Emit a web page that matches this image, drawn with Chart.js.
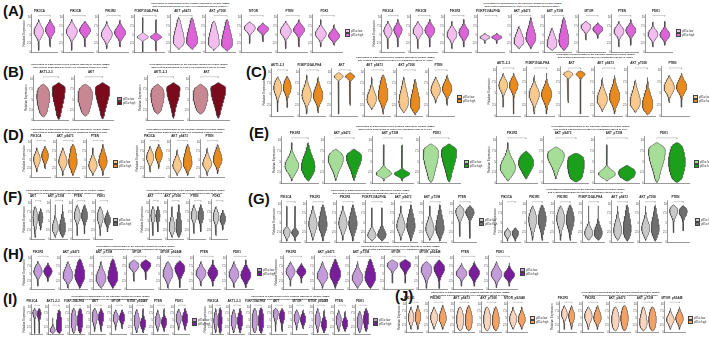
<!DOCTYPE html>
<html><head><meta charset="utf-8">
<script src="https://cdn.jsdelivr.net/npm/chart.js@4.4.1/dist/chart.umd.min.js"></script>
<style>
html,body{margin:0;padding:0;background:#fff}
#root{position:relative;width:709px;height:339px;overflow:hidden;font-family:"Liberation Sans",Arial,sans-serif}
.plab{position:absolute;font-weight:bold;font-size:15px;line-height:15px;color:#111}
.ttl{position:absolute;white-space:nowrap;font-size:10px;line-height:11px;font-weight:bold;color:#333;text-align:center;transform-origin:top center}
.leg{position:absolute}
.leg .sw{position:absolute;width:5px;height:4px;border:0.5px solid #444;box-sizing:border-box}
.leg .lt{position:absolute;white-space:nowrap;font-size:10px;line-height:10px;color:#333;transform:scale(0.28);transform-origin:top left}
</style>
</head><body><div id="root"></div>
<script>
// ---------------- DATA (values in relative units, 0-10 per panel) ----------------
// each violin: [min, q1, median, q3, max]
const A_genes = ['PIK3CA','PIK3CB','PIK3R2','PI3KP110ALPHA','AKT_pS473','AKT_pT308','MTOR','PTEN','PDK1'];
const A1_low  = [[0.5,5.0,6.0,7.0,9.5],[0.5,5.0,6.0,7.0,9.5],[1.0,4.2,5.2,6.2,9.0],[0.0,4.0,4.4,4.8,10],[0.8,2.2,3.0,5.5,10],[0.5,1.8,2.4,5.0,9.0],[2.5,6.3,7.0,7.7,8.8],[1.0,5.2,6.1,7.0,9.0],[1.5,4.5,5.3,6.2,9.5]];
const A1_high = [[1.5,5.6,6.5,7.4,9.5],[1.5,5.5,6.3,7.2,9.0],[1.5,4.8,5.7,6.6,9.3],[0.3,4.0,4.4,4.8,9.5],[0.8,2.2,3.0,5.5,10],[0.3,1.5,2.2,4.8,9.5],[3.0,6.1,6.7,7.3,8.5],[1.5,5.7,6.5,7.3,9.5],[2.0,4.0,4.7,5.5,8.0]];
const A2_low  = [[1.0,5.3,6.1,7.0,9.0],[1.0,5.3,6.1,7.0,9.0],[1.0,4.3,5.2,6.1,9.0],[2.5,4.0,4.3,4.7,5.5],[1.0,2.3,3.0,4.5,7.5],[0.5,1.5,2.2,3.8,7.0],[3.5,6.7,7.4,8.0,9.0],[1.5,5.3,6.1,6.9,9.0],[1.5,4.4,5.2,6.0,8.8]];
const A2_high = [[1.5,5.6,6.5,7.3,9.5],[1.5,5.5,6.3,7.2,9.5],[1.5,4.8,5.7,6.6,9.5],[2.5,4.0,4.3,4.7,5.5],[1.0,3.0,3.9,5.8,10],[0.5,2.0,3.0,5.5,10],[4.0,6.1,6.7,7.3,8.5],[2.0,5.5,6.3,7.1,9.5],[2.0,4.3,5.0,5.8,9.0]];

const B_genes = ['AKT1-2-3','AKT'];
const B1_low  = [[0.8,3.5,6.0,7.5,8.8],[1.0,3.8,6.2,7.6,8.8]];
const B1_high = [[0.2,5.0,7.8,8.4,9.2],[0.3,5.2,7.8,8.4,9.2]];
const B2_low  = [[1.5,4.0,6.3,7.6,8.8],[1.5,4.0,6.3,7.6,8.8]];
const B2_high = [[0.5,5.5,7.8,8.4,9.2],[0.5,5.3,7.8,8.4,9.2]];

const C_genes = ['AKT1-2-3','PI3KP110ALPHA','AKT','AKT_pS473','AKT_pT308','PTEN'];
const C1_low  = [[1.0,5.5,6.5,7.5,9.0],[0.5,3.8,4.8,6.0,9.5],[0.5,8.8,9.2,9.6,10],[1.5,3.0,3.8,5.0,9.0],[0.8,2.2,3.2,5.0,9.0],[3.0,5.2,6.0,7.0,9.0]];
const C1_high = [[2.0,5.7,6.6,7.6,9.2],[0.8,3.7,4.6,5.8,9.0],[2.5,8.8,9.2,9.6,10],[0.5,3.5,4.5,6.5,9.5],[0.3,1.8,2.6,4.5,8.5],[2.5,5.5,6.3,7.2,9.5]];
const C2_low  = [[2.0,6.0,6.8,7.6,9.5],[0.5,3.8,4.8,5.8,9.0],[3.0,9.0,9.4,9.7,10],[1.0,2.8,3.6,4.8,8.5],[0.8,2.2,3.0,4.5,8.0],[3.0,5.5,6.3,7.2,9.0]];
const C2_high = [[0.5,6.0,6.8,7.6,9.5],[0.5,3.8,4.8,5.8,9.5],[0.5,9.0,9.4,9.7,10],[0.5,3.2,4.2,5.5,9.0],[0.3,1.5,2.5,4.0,8.5],[2.0,5.6,6.4,7.3,9.5]];

const D_genes = ['PIK3CA','AKT_pS473','PTEN'];
const D1_low  = [[1.5,4.2,5.2,6.2,8.5],[0.5,3.5,4.5,5.8,8.5],[0.5,2.5,3.3,4.5,8.5]];
const D1_high = [[2.5,5.3,6.3,7.2,9.0],[0.5,3.0,4.2,6.5,9.5],[0.5,3.5,4.5,6.0,9.5]];
const D2_low  = [[1.5,4.8,5.8,6.8,9.0],[0.5,2.5,3.3,4.5,8.0],[0.5,3.0,3.8,5.0,8.5]];
const D2_high = [[2.5,5.5,6.5,7.5,9.5],[0.5,3.0,4.0,6.0,9.5],[1.0,4.0,5.0,6.5,9.5]];

const E_genes = ['PIK3R2','AKT_pS473','AKT_pT308','PDK1'];
const E1_low  = [[0.5,3.0,4.0,5.2,9.5],[0.6,4.3,5.8,6.8,8.0],[0.5,1.8,2.2,2.8,9.0],[0.2,4.5,7.2,8.2,9.2]];
const E1_high = [[0.5,2.5,3.8,5.5,9.5],[0.6,4.5,6.2,7.0,8.0],[0.5,1.8,2.2,2.6,9.0],[0.3,5.0,7.5,8.3,9.2]];
const E2_low  = [[0.5,2.5,3.6,5.0,9.5],[1.0,5.0,6.6,7.5,8.5],[0.5,1.6,2.2,2.8,9.0],[0.2,5.0,7.6,8.5,9.5]];
const E2_high = [[1.0,3.5,4.8,6.0,7.5],[0.3,2.0,4.5,6.5,7.0],[0.5,1.5,2.5,3.3,4.2],[0.2,2.5,5.0,7.5,9.5]];

const F_genes = ['AKT','AKT_pT308','PTEN','PDK1'];
const F1_low  = [[0.5,4.5,6.0,7.3,9.0],[0.5,2.3,3.1,4.2,9.5],[1.0,5.5,6.4,7.5,9.5],[1.0,5.0,6.0,7.2,9.0]];
const F1_high = [[2.5,5.0,6.0,6.8,8.5],[0.5,2.0,3.0,4.5,9.5],[1.5,5.5,6.4,7.5,9.5],[2.0,4.5,5.2,6.0,8.0]];
const F2_low  = [[1.0,5.5,6.5,7.5,9.0],[0.5,2.3,3.2,4.5,9.0],[1.5,5.6,6.5,7.5,9.5],[1.0,5.2,6.2,7.2,9.0]];
const F2_high = [[2.0,5.5,6.4,7.3,9.0],[0.5,2.0,3.0,5.0,9.5],[2.0,5.5,6.5,7.5,9.5],[2.5,4.8,5.5,6.3,8.0]];

const G_genes = ['PIK3CA','PIK3R1','PIK3R2','PI3KP110ALPHA','AKT_pS473','AKT_pT308','PTEN'];
const G1_low  = [[0.3,2.0,2.8,3.3,9.5],[0.5,3.5,4.8,6.2,9.5],[0.5,3.8,5.0,6.3,9.5],[0.3,1.2,1.8,2.6,9.0],[0.5,3.2,4.2,5.5,9.5],[0.5,2.5,3.5,4.8,9.5],[1.5,7.0,8.0,8.8,9.8]];
const G1_high = [[0.3,2.0,2.5,3.0,9.5],[0.3,3.3,4.5,6.5,9.8],[0.3,3.5,4.8,6.5,9.8],[0.3,1.2,1.9,2.8,9.0],[0.3,3.0,4.2,6.0,9.8],[0.3,2.5,3.5,5.5,9.8],[1.0,7.0,7.8,8.6,9.6]];
const G2_low  = [[0.3,1.8,2.3,2.8,3.8],[0.5,4.5,6.0,7.3,9.5],[0.5,4.8,6.2,7.5,9.5],[0.5,1.6,2.4,3.3,9.5],[0.5,2.0,3.0,4.5,9.5],[0.5,2.5,3.5,4.8,9.5],[2.5,7.3,8.2,9.0,9.8]];
const G2_high = [[0.3,1.8,2.4,3.0,3.8],[0.5,4.5,6.0,7.5,9.8],[0.5,4.5,6.0,7.5,9.8],[0.5,1.5,2.4,3.5,9.5],[0.3,2.0,3.2,5.5,9.8],[0.3,2.3,3.5,5.5,9.8],[3.0,7.2,8.0,8.8,9.6]];

const H_genes = ['PIK3R2','AKT_pS473','AKT_pT308','MTOR','MTOR_pS2448','PTEN','PDK1'];
const H1_low  = [[1.0,4.8,5.7,6.8,9.0],[0.3,3.3,4.3,5.8,9.0],[0.3,2.3,3.4,5.0,9.0],[2.5,6.8,7.6,8.4,9.5],[0.3,3.8,5.0,6.5,9.0],[1.0,4.2,5.1,6.2,9.0],[0.5,3.8,4.8,6.0,9.0]];
const H1_high = [[2.5,5.0,5.8,6.6,8.5],[0.3,3.0,4.3,6.5,9.8],[0.3,2.5,3.6,6.0,9.8],[3.0,7.0,7.8,8.6,9.5],[0.5,5.5,6.8,7.8,9.2],[1.0,4.3,5.3,6.3,9.5],[0.5,3.5,4.6,5.8,9.5]];
const H2_low  = [[1.0,4.8,5.7,6.7,9.0],[0.3,3.2,4.2,5.6,9.0],[0.3,2.5,3.6,5.0,9.0],[2.0,7.0,7.8,8.6,9.5],[0.3,5.0,6.4,7.5,9.0],[1.0,4.3,5.1,6.0,8.5],[0.5,3.8,4.8,6.0,9.0]];
const H2_high = [[2.0,5.0,5.7,6.5,8.5],[0.3,3.5,4.8,6.5,9.8],[0.3,2.5,3.8,6.0,9.8],[2.0,7.0,8.0,8.8,9.6],[0.3,5.5,6.8,7.8,9.5],[1.0,4.3,5.3,6.3,9.0],[1.0,3.8,4.6,5.5,8.5]];

const I_genes = ['PIK3CA','AKT1-2-3','PI3KP110ALPHA','AKT','MTOR','MTOR_pS2448','PTEN','PDK1'];
const I1_low  = [[0.3,7.0,7.8,8.5,9.5],[0.3,0.8,1.3,2.0,6.0],[0.3,3.0,5.0,7.0,9.5],[1.0,5.0,6.5,7.8,9.5],[1.5,5.0,6.0,7.0,9.0],[0.5,3.5,5.0,6.5,9.0],[1.0,3.8,5.0,6.2,9.0],[1.5,4.8,6.0,7.2,9.2]];
const I1_high = [[0.3,6.5,7.5,8.3,9.5],[0.3,1.5,3.0,5.5,9.0],[0.3,3.0,5.0,7.0,9.5],[1.0,5.0,6.5,7.5,9.5],[2.0,5.0,6.0,7.0,9.0],[0.5,2.8,3.8,5.0,9.5],[1.0,3.5,4.5,5.5,9.5],[1.5,4.5,5.8,7.0,9.5]];
const I2_low  = [[0.5,3.5,5.0,6.5,9.5],[0.5,3.5,5.0,6.5,9.0],[0.5,3.0,5.0,7.0,9.5],[1.0,6.5,7.8,8.7,9.5],[1.5,5.0,6.2,7.2,9.0],[0.5,4.0,5.5,6.8,9.5],[1.0,4.0,5.5,6.5,9.0],[0.5,3.0,4.5,6.0,8.5]];
const I2_high = [[0.3,3.0,5.0,7.0,9.8],[0.5,3.5,5.0,6.5,9.5],[0.3,3.0,5.0,7.0,9.8],[1.0,5.5,6.8,7.8,9.5],[2.0,4.5,5.5,6.5,9.0],[0.5,2.5,3.5,4.8,9.0],[1.0,3.0,4.0,5.0,8.5],[1.0,4.0,5.8,7.2,9.5]];

const J_genes = ['PIK3R1','PIK3R2','AKT_pS473','AKT_pT308','MTOR_pS2448'];
const J1_low  = [[1.0,4.0,5.3,6.5,9.0],[1.0,4.0,5.3,6.5,9.0],[0.5,2.5,4.5,6.5,9.0],[0.5,2.5,4.5,6.5,9.0],[1.0,3.5,4.8,6.0,9.0]];
const J1_high = [[1.0,4.2,5.5,6.8,9.5],[1.0,3.8,5.0,6.5,9.5],[0.5,2.5,4.5,6.5,9.5],[0.5,2.5,4.0,6.0,9.0],[1.0,3.5,4.5,5.8,9.0]];
const J2_low  = [[1.0,5.5,6.5,7.5,9.5],[1.0,4.5,5.8,7.0,9.0],[0.5,2.5,4.5,6.5,9.0],[0.5,2.0,3.2,5.5,9.0],[1.0,3.5,4.5,5.5,8.5]];
const J2_high = [[1.0,4.5,5.8,7.0,9.5],[1.0,4.0,5.0,6.5,9.5],[0.5,3.0,5.0,7.0,9.5],[0.5,2.5,4.5,6.5,9.0],[1.0,3.8,4.8,6.0,9.0]];

const yTicks = [0, 2.5, 5, 7.5, 10];
const legendLabels = ['p85α low','p85α high'];
const cancers = {A:'BRCA',B:'GBM',C:'HNSC',D:'KIRP',E:'LGG',F:'LIHC',G:'LUAD',H:'PRAD',I:'SKCM',J:'UCEC'};
const titlePrimary = ['Correlation of Expression of the Primary Isoform of PIK3R1 (p85α)','and Protein Expression of PI3K/AKT Signaling Players in '];
const titleSplice  = ['Correlation of Expression of the Splicing Variant of PIK3R1 (p50α)','and Protein Expression of PI3K/AKT Signaling Players in '];

// ---------------- STYLE / LAYOUT ----------------
const PAL = {
  pink:['#f3bdf0','#dc64d8'], red:['#c98793','#7c0a1d'], orange:['#f9c98e','#ea8a1c'],
  green:['#a6dd98','#1ca01c'], gray:['#c9c9c9','#6f6f6f'], purple:['#c49cd9','#7a1c9c'], peach:['#fbd4bd','#f4a264']
};
const groups = [
  {p:'A',genes:A_genes,low:A1_low,high:A1_high,x0:22,x1:343,y0:9,y1:55,t:titlePrimary,tx:190,ty:2,leg:[345,29],pal:PAL.pink},
  {p:'A',genes:A_genes,low:A2_low,high:A2_high,x0:372,x1:673,y0:9,y1:55,t:titleSplice,tx:522,ty:2,leg:[676,29],pal:PAL.pink},
  {p:'B',genes:B_genes,low:B1_low,high:B1_high,x0:24,x1:113,y0:70,y1:123,t:titlePrimary,tx:70,ty:63,leg:[117,97],pal:PAL.red},
  {p:'B',genes:B_genes,low:B2_low,high:B2_high,x0:138,x1:229,y0:70,y1:123,t:titleSplice,tx:188,ty:63,leg:null,pal:PAL.red},
  {p:'C',genes:C_genes,low:C1_low,high:C1_high,x0:262,x1:455,y0:63,y1:119,t:titlePrimary,tx:395,ty:56,leg:[457,95],pal:PAL.orange},
  {p:'C',genes:C_genes,low:C2_low,high:C2_high,x0:487,x1:690,y0:61,y1:119,t:titleSplice,tx:595,ty:53,leg:[693,95],pal:PAL.orange},
  {p:'D',genes:D_genes,low:D1_low,high:D1_high,x0:22,x1:110,y0:134,y1:180,t:titlePrimary,tx:70,ty:128,leg:[113,160],pal:PAL.orange},
  {p:'D',genes:D_genes,low:D2_low,high:D2_high,x0:135,x1:225,y0:134,y1:180,t:titleSplice,tx:185,ty:128,leg:null,pal:PAL.orange},
  {p:'E',genes:E_genes,low:E1_low,high:E1_high,x0:272,x1:461,y0:131,y1:186,t:titlePrimary,tx:395,ty:125,leg:[464,160],pal:PAL.green},
  {p:'E',genes:E_genes,low:E2_low,high:E2_high,x0:487,x1:690,y0:131,y1:186,t:titleSplice,tx:590,ty:125,leg:[694,160],pal:PAL.green},
  {p:'F',genes:F_genes,low:F1_low,high:F1_high,x0:22,x1:112,y0:194,y1:242,t:titlePrimary,tx:65,ty:189,leg:[113,218],pal:PAL.gray},
  {p:'F',genes:F_genes,low:F2_low,high:F2_high,x0:140,x1:228,y0:194,y1:242,t:titleSplice,tx:185,ty:189,leg:null,pal:PAL.gray},
  {p:'G',genes:G_genes,low:G1_low,high:G1_high,x0:272,x1:477,y0:195,y1:245,t:titlePrimary,tx:370,ty:189,leg:[479,218],pal:PAL.gray},
  {p:'G',genes:G_genes,low:G2_low,high:G2_high,x0:493,x1:690,y0:195,y1:245,t:titleSplice,tx:585,ty:188,leg:[695,218],pal:PAL.gray},
  {p:'H',genes:H_genes,low:H1_low,high:H1_high,x0:22,x1:254,y0:250,y1:292,t:titleSplice,tx:135,ty:245,leg:[257,268],pal:PAL.purple},
  {p:'H',genes:H_genes,low:H2_low,high:H2_high,x0:274,x1:518,y0:250,y1:292,t:titlePrimary,tx:400,ty:245,leg:[520,268],pal:PAL.purple},
  {p:'I',genes:I_genes,low:I1_low,high:I1_high,x0:22,x1:190,y0:299,y1:337,t:titleSplice,tx:110,ty:295,leg:[192,318],pal:PAL.purple},
  {p:'I',genes:I_genes,low:I2_low,high:I2_high,x0:203,x1:371,y0:299,y1:337,t:titlePrimary,tx:290,ty:295,leg:[373,318],pal:PAL.purple},
  {p:'J',genes:J_genes,low:J1_low,high:J1_high,x0:397,x1:528,y0:296,y1:335,t:titlePrimary,tx:470,ty:291,leg:[530,316],pal:PAL.peach},
  {p:'J',genes:J_genes,low:J2_low,high:J2_high,x0:550,x1:686,y0:296,y1:335,t:titleSplice,tx:620,ty:291,leg:[688,316],pal:PAL.peach}
];
const panelLabels = [['A',3,3],['B',3,64],['C',246,64],['D',3,127],['E',249,125],['F',3,189],['G',248,191],['H',3,246],['I',3,291],['J',395,288]];

const root = document.getElementById('root');
const HW = 0.42;

function widthAt(s, y){
  const [mn,q1,md,q3,mx] = s;
  if (y < mn || y > mx) return 0;
  const sl = Math.max((md-q1)/0.674, 0.05), sh = Math.max((q3-md)/0.674, 0.05);
  const sg = y < md ? sl : sh;
  let w = Math.exp(-0.5*Math.pow((y-md)/sg,2));
  const end = Math.min(y-mn, mx-y);
  // rounded ends, thin tails
  w = w * Math.sqrt(Math.min(1, end/0.9));
  w = Math.max(w, 0.06*Math.min(1, end/0.4));
  return w;
}
function violinShape(s, c){
  const [mn,q1,md,q3,mx] = s;
  const ys = [];
  const N = 48;
  for (let i=0;i<=N;i++) ys.push(mn+(mx-mn)*i/N);
  ys.push(q1, md, q3);
  ys.sort((a,b)=>a-b);
  const right = ys.map(y=>({x:c+HW*widthAt(s,y), y}));
  const left = ys.slice().reverse().map(y=>({x:c-HW*widthAt(s,y), y}));
  return right.concat(left);
}

function addLabel(txt,x,y){
  const d=document.createElement('div'); d.className='plab';
  d.style.left=x+'px'; d.style.top=y+'px'; d.textContent='('+txt+')'; root.appendChild(d);
}
function addTitle(lines, cancer, cx, y){
  const d=document.createElement('div'); d.className='ttl';
  d.innerHTML = lines[0]+'<br>'+lines[1]+cancer;
  root.appendChild(d);
  const w = d.offsetWidth;
  d.style.left=(cx - w/2)+'px'; d.style.top=y+'px';
  d.style.transform='scale(0.25)';
}
function addLegend(x,y,pal){
  const g=document.createElement('div'); g.className='leg'; g.style.left=x+'px'; g.style.top=y+'px';
  pal.forEach((c,i)=>{
    const s=document.createElement('div'); s.className='sw'; s.style.left='0px'; s.style.top=(i*4)+'px'; s.style.background=c; g.appendChild(s);
    const t=document.createElement('div'); t.className='lt'; t.style.left='6px'; t.style.top=(i*4+0.5)+'px'; t.textContent=legendLabels[i]; g.appendChild(t);
  });
  root.appendChild(g);
}

function makeChart(x, y, w, h, gene, lo, hi, pal, first){
  const cv=document.createElement('canvas');
  cv.width=Math.round(w); cv.height=Math.round(h);
  cv.style.position='absolute'; cv.style.left=Math.round(x)+'px'; cv.style.top=Math.round(y)+'px';
  cv.style.width=Math.round(w)+'px'; cv.style.height=Math.round(h)+'px';
  root.appendChild(cv);
  const ds=[];
  [[lo,1,pal[0]],[hi,2,pal[1]]].forEach(([s,c,col])=>{
    ds.push({data:violinShape(s,c), showLine:true, fill:'shape', backgroundColor:col, borderColor:'#3a3a3a', borderWidth:0.5, pointRadius:0, tension:0});
    [s[1],s[2],s[3]].forEach(q=>{
      const ww=HW*widthAt(s,q);
      ds.push({data:[{x:c-ww,y:q},{x:c+ww,y:q}], showLine:true, fill:false, borderColor:'rgba(40,40,40,0.65)', borderWidth:0.4, borderDash:[1,0.8], pointRadius:0});
    });
  });
  ds.push({data:[{x:1,y:10.35},{x:1,y:10.6},{x:2,y:10.6},{x:2,y:10.35}], showLine:true, fill:false, borderColor:'#888', borderWidth:0.4, pointRadius:0});
  new Chart(cv,{
    type:'scatter',
    data:{datasets:ds},
    options:{
      responsive:false, animation:false, events:[], devicePixelRatio:1,
      layout:{padding:{top:0,right:1,bottom:0,left:0}},
      plugins:{legend:{display:false},tooltip:{enabled:false},
        title:{display:true,text:gene,font:{size:3,weight:'bold',family:'Liberation Sans'},color:'#222',padding:{top:0,bottom:1.5}}},
      scales:{
        x:{type:'linear',min:0.4,max:2.6,ticks:{display:false},grid:{display:false,drawTicks:false},border:{color:'#555',width:0.6}},
        y:{type:'linear',min:0,max:11,afterBuildTicks:(ax)=>{ax.ticks=yTicks.map(v=>({value:v}));},
           ticks:{font:{size:2.8,family:'Liberation Sans'},color:'#444',padding:1},
           grid:{display:false,drawTicks:false},border:{color:'#555',width:0.6},
           title:{display:first,text:'Relative Expression',font:{size:3,family:'Liberation Sans'},color:'#333',padding:{top:0,bottom:0.5}}}
      }
    }
  });
}

panelLabels.forEach(([t,x,y])=>addLabel(t,x,y));
groups.forEach(g=>{
  addTitle(g.t, cancers[g.p], g.tx, g.ty);
  const n=g.genes.length, w=(g.x1-g.x0)/n;
  g.genes.forEach((gene,i)=>{
    makeChart(g.x0+i*w, g.y0, w, g.y1-g.y0, gene, g.low[i], g.high[i], g.pal, i===0);
  });
  if (g.leg) addLegend(g.leg[0], g.leg[1], g.pal);
});
</script>
</body></html>
